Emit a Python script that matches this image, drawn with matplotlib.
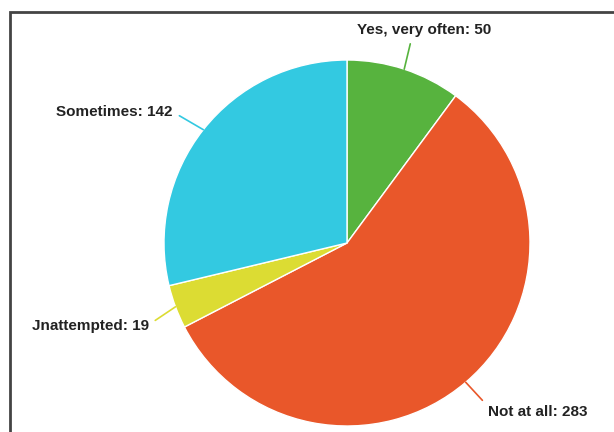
import matplotlib.pyplot as plt
import numpy as np

labels = ['Yes, very often', 'Not at all', 'Jnattempted', 'Sometimes']
counts = [50, 283, 19, 142]
colors = ['#57b33e', '#e9572a', '#dcdc33', '#33c9e1']

W, H = 614, 432
fig = plt.figure(figsize=(W / 100, H / 100), dpi=100)
ax = fig.add_axes([0, 0, 1, 1])

cx, cy, r = 347, H - 243, 183
wedges, _ = ax.pie(counts, colors=colors, startangle=90, counterclock=False,
                   center=(cx, cy), radius=r, frame=True,
                   wedgeprops=dict(edgecolor='white', linewidth=1))
ax.set_xlim(0, W)
ax.set_ylim(0, H)
ax.set_aspect('equal')
ax.axis('off')

# label position (pixels from top-left), alignment, line anchor on the text
label_pos = [(424, 30, 'center', 'center', (0.41, 0.0)),
             (488, 412, 'left', 'center', (0.0, 0.9)),
             (149, 326, 'right', 'center', (1.0, 0.6)),
             (173, 112, 'right', 'center', (1.0, 0.5))]

for w, lab, n, col, (tx, ty, ha, va, rel) in zip(wedges, labels, counts, colors, label_pos):
    ang = np.deg2rad((w.theta1 + w.theta2) / 2)
    px, py = cx + r * np.cos(ang), cy + r * np.sin(ang)
    ax.annotate(f'{lab}: {n}', xy=(px, py), xytext=(tx, H - ty),
                ha=ha, va=va, fontsize=11, fontweight='bold', color='#222222',
                family=['Liberation Sans', 'DejaVu Sans'],
                arrowprops=dict(arrowstyle='-', color=col, lw=1.2,
                                shrinkA=3, shrinkB=0, relpos=rel))

# frame edges
ax.plot([10, 10, W], [0, H - 12, H - 12], color='#444444', lw=2, solid_joinstyle='miter')

fig.savefig('out.png', dpi=100)
